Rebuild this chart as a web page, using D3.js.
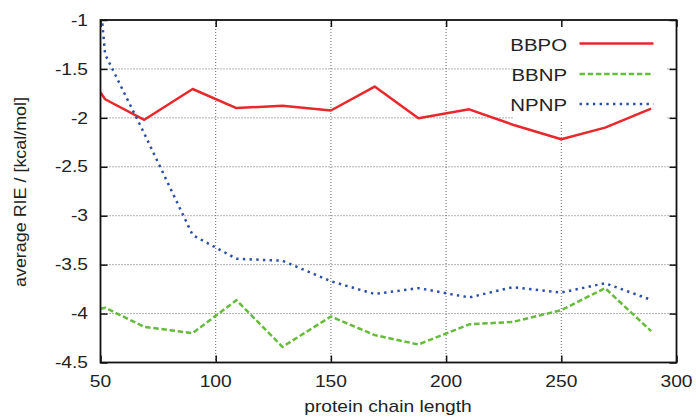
<!DOCTYPE html>
<html><head><meta charset="utf-8">
<script src="https://cdn.jsdelivr.net/npm/d3@7/dist/d3.min.js"></script>
<style>body{margin:0;background:#fff}svg{display:block}text{font-family:"Liberation Sans",Arial,sans-serif;fill:#222}</style>
</head><body>
<script>
const chainLength = [50, 52, 69, 90, 109, 129, 150, 169, 188, 210, 229, 250, 269, 289];
const bbpo = [-1.74, -1.81, -2.02, -1.705, -1.90, -1.876, -1.925, -1.68, -2.005, -1.913, -2.07, -2.218, -2.10, -1.906];
const bbnp = [-3.95, -3.94, -4.136, -4.20, -3.863, -4.34, -4.03, -4.22, -4.316, -4.11, -4.085, -3.965, -3.74, -4.18];
const npnp = [-0.83, -1.35, -2.16, -3.198, -3.44, -3.46, -3.67, -3.80, -3.74, -3.835, -3.73, -3.785, -3.69, -3.86];
const seriesNames = ["BBPO", "BBNP", "NPNP"];
const xTicks = [50, 100, 150, 200, 250, 300];
const yTicks = [-1, -1.5, -2, -2.5, -3, -3.5, -4, -4.5];
const xTitle = "protein chain length";
const yTitle = "average RIE / [kcal/mol]";

const W = 696, H = 417;
const L = 100.5, R = 676.5, T = 20, B = 362.5;
const svg = d3.select("body").append("svg").attr("width", W).attr("height", H);
const x = d3.scaleLinear().domain([50, 300]).range([L, R]);
const y = d3.scaleLinear().domain([-4.5, -1]).range([B, T]);
const SX = 1.2, FS = 16;

// grid
const grid = svg.append("g").attr("stroke", "#666").attr("stroke-width", 1).attr("stroke-dasharray", "1,2");
xTicks.filter(t => t > 50 && t < 300).forEach(t => grid.append("line").attr("x1", x(t)).attr("x2", x(t)).attr("y1", T).attr("y2", B));
yTicks.filter(t => t > -4.5 && t < -1).forEach(t => grid.append("line").attr("x1", L).attr("x2", R).attr("y1", y(t)).attr("y2", y(t)));

// legend box background
svg.append("rect").attr("x", 514).attr("y", T + 1).attr("width", 153).attr("height", 100).attr("fill", "#fff");

// axes via d3 axis (inward ticks), mirrored
const tl = 7;
const ax = d3.axisBottom(x).tickValues(xTicks).tickSize(-tl).tickFormat("");
const axT = d3.axisTop(x).tickValues(xTicks).tickSize(-tl).tickFormat("");
const ay = d3.axisLeft(y).tickValues(yTicks).tickSize(-tl).tickFormat("");
const ayR = d3.axisRight(y).tickValues(yTicks).tickSize(-tl).tickFormat("");
[[ax, `translate(0,${B})`], [axT, `translate(0,${T})`], [ay, `translate(${L},0)`], [ayR, `translate(${R},0)`]].forEach(([a, tr]) => {
  const g = svg.append("g").attr("transform", tr).call(a);
  g.select(".domain").remove();
  g.selectAll("line").attr("stroke", "#111").attr("stroke-width", 1.5);
});

// tick labels
xTicks.forEach(t => svg.append("text").attr("transform", `translate(${x(t)},387) scale(${SX},1)`)
  .attr("text-anchor", "middle").attr("font-size", FS).text(t));
yTicks.forEach(t => svg.append("text").attr("transform", `translate(88,${y(t) + 5.7}) scale(${SX},1)`)
  .attr("text-anchor", "end").attr("font-size", FS).text(d3.format("")(t).replace("\u2212", "-")));

// titles
svg.append("text").attr("transform", `translate(388,412) scale(${SX},1)`).attr("text-anchor", "middle").attr("font-size", FS).text(xTitle);
svg.append("text").attr("transform", `translate(25.5,192) rotate(-90) scale(1.12,1)`).attr("text-anchor", "middle").attr("font-size", FS).text(yTitle);

// legend
const styles = [
  {color: "#e8282b", dash: null},
  {color: "#66bb3c", dash: "5.5,2.7"},
  {color: "#2b4ea6", dash: "2.4,4.3"}
];
const legY = [43.5, 74, 104];
seriesNames.forEach((n, i) => {
  svg.append("text").attr("transform", `translate(567,${legY[i] + 7}) scale(${SX},1)`).attr("text-anchor", "end").attr("font-size", 17).text(n);
  svg.append("line").attr("x1", 579.5).attr("x2", 653.5).attr("y1", legY[i]).attr("y2", legY[i])
    .attr("stroke", styles[i].color).attr("stroke-width", 2.5).attr("stroke-dasharray", styles[i].dash);
});

// data lines
svg.append("clipPath").attr("id", "clip").append("rect").attr("x", L).attr("y", T).attr("width", R - L).attr("height", B - T);
const line = d3.line().x(d => x(d[0])).y(d => y(d[1]));
const plot = svg.append("g").attr("clip-path", "url(#clip)");
[bbpo, bbnp, npnp].forEach((vals, i) => {
  plot.append("path").datum(chainLength.map((c, j) => [c, vals[j]])).attr("d", line)
    .attr("fill", "none").attr("stroke", styles[i].color).attr("stroke-width", 2.5)
    .attr("stroke-linejoin", "round").attr("stroke-dasharray", styles[i].dash);
});

// frame
svg.append("rect").attr("x", L).attr("y", T).attr("width", R - L).attr("height", B - T)
  .attr("fill", "none").attr("stroke", "#111").attr("stroke-width", 1.8);
</script>
</body></html>
